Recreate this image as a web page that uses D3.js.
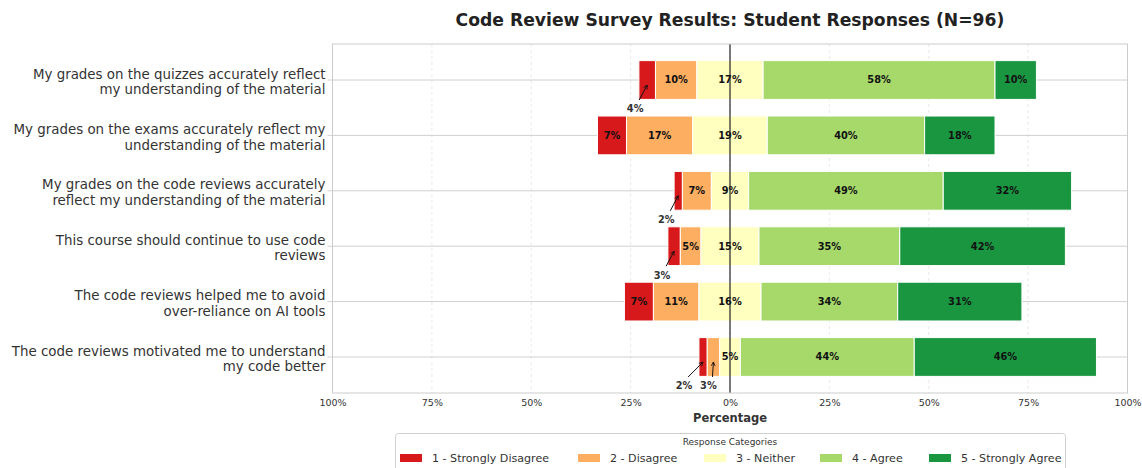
<!DOCTYPE html>
<html>
<head>
<meta charset="utf-8">
<script src="https://cdn.jsdelivr.net/npm/d3@7"></script>
<style>
  body { margin: 0; background: #fff; }
  svg { font-family: "DejaVu Sans", sans-serif; display: block; }
</style>
</head>
<body>
<div id="chart"></div>
<script>
const N = 96;

const questions = [
  ["My grades on the quizzes accurately reflect", "my understanding of the material"],
  ["My grades on the exams accurately reflect my", "understanding of the material"],
  ["My grades on the code reviews accurately", "reflect my understanding of the material"],
  ["This course should continue to use code", "reviews"],
  ["The code reviews helped me to avoid", "over-reliance on AI tools"],
  ["The code reviews motivated me to understand", "my code better"]
];

const categories = ["1 - Strongly Disagree", "2 - Disagree", "3 - Neither", "4 - Agree", "5 - Strongly Agree"];
const colors = ["#d7191c", "#fdae61", "#ffffbf", "#a6d96a", "#1a9641"];

// response counts per question (out of N = 96)
const stronglyDisagree = [4, 7, 2, 3, 7, 2];
const disagree = [10, 16, 7, 5, 11, 3];
const neither = [16, 18, 9, 14, 15, 5];
const agree = [56, 38, 47, 34, 33, 42];
const stronglyAgree = [10, 17, 31, 40, 30, 44];

const xTicks = [-100, -75, -50, -25, 0, 25, 50, 75, 100];

const W = 1142, H = 468;
const plot = { left: 332.5, right: 1127.5, top: 44, bottom: 393 };

const svg = d3.select("#chart").append("svg")
  .attr("width", W).attr("height", H);

const x = d3.scaleLinear().domain([-100, 100]).range([plot.left, plot.right]);
const y = d3.scaleLinear().domain([-0.65, 5.65]).range([plot.top, plot.bottom]);
const barH = y(0.35) - y(-0.35);

const defs = svg.append("defs");
defs.append("marker")
  .attr("id", "arrow")
  .attr("viewBox", "0 0 10 10")
  .attr("refX", 9).attr("refY", 5)
  .attr("markerWidth", 5).attr("markerHeight", 5)
  .attr("orient", "auto")
  .append("path")
  .attr("d", "M1,1 L9,5 L1,9")
  .attr("fill", "none")
  .attr("stroke", "#111")
  .attr("stroke-width", 1.6);

// grid
svg.append("g").selectAll("line")
  .data(xTicks)
  .join("line")
  .attr("x1", d => x(d)).attr("x2", d => x(d))
  .attr("y1", plot.top).attr("y2", plot.bottom)
  .attr("stroke", "#e3e3e3")
  .attr("stroke-dasharray", "3,3")
  .attr("stroke-width", 0.8);

svg.append("g").selectAll("line")
  .data(questions)
  .join("line")
  .attr("x1", plot.left - 5).attr("x2", plot.right)
  .attr("y1", (d, i) => y(i)).attr("y2", (d, i) => y(i))
  .attr("stroke", "#d0d0d0")
  .attr("stroke-width", 1);

// build rows
const rows = questions.map((q, i) => {
  const counts = [stronglyDisagree[i], disagree[i], neither[i], agree[i], stronglyAgree[i]];
  const pct = counts.map(c => c / N * 100);
  let start = -(pct[0] + pct[1] + pct[2] / 2);
  const segs = pct.map((p, k) => {
    const s = { row: i, k, x0: start, x1: start + p, p };
    start += p;
    return s;
  });
  return segs;
});

const bars = svg.append("g");
rows.forEach(segs => {
  bars.selectAll(null)
    .data(segs)
    .join("rect")
    .attr("x", d => x(d.x0))
    .attr("width", d => x(d.x1) - x(d.x0))
    .attr("y", d => y(d.row) - barH / 2)
    .attr("height", barH)
    .attr("fill", d => colors[d.k])
    .attr("stroke", "#fff")
    .attr("stroke-width", 1);

  const inside = segs.filter(d => Math.round(d.p) >= 5);
  bars.selectAll(null)
    .data(inside)
    .join("text")
    .attr("x", d => x((d.x0 + d.x1) / 2))
    .attr("y", d => y(d.row))
    .attr("dy", "0.35em")
    .attr("text-anchor", "middle")
    .attr("font-size", 9.8)
    .attr("font-weight", "bold")
    .attr("fill", "#111")
    .text(d => Math.round(d.p) + "%");

  const small = segs.filter(d => Math.round(d.p) < 5);
  const offs = small.length > 1 ? [-19, -5] : [-12];
  small.forEach((d, j) => {
    const cx = x((d.x0 + d.x1) / 2);
    const cy = y(d.row);
    const tx = cx + offs[j];
    bars.append("line")
      .attr("x1", tx + 4).attr("y1", cy + 20)
      .attr("x2", cx).attr("y2", cy + 5)
      .attr("stroke", "#111")
      .attr("stroke-width", 1)
      .attr("marker-end", "url(#arrow)");
    bars.append("text")
      .attr("x", tx).attr("y", cy + 29)
      .attr("dy", "0.35em")
      .attr("text-anchor", "middle")
      .attr("font-size", 9.8)
      .attr("font-weight", "bold")
      .attr("fill", "#333")
      .text(Math.round(d.p) + "%");
  });
});

// zero line
svg.append("line")
  .attr("x1", x(0)).attr("x2", x(0))
  .attr("y1", plot.top).attr("y2", plot.bottom)
  .attr("stroke", "#222")
  .attr("stroke-width", 1.2);

// frame
svg.append("rect")
  .attr("x", plot.left).attr("y", plot.top)
  .attr("width", plot.right - plot.left).attr("height", plot.bottom - plot.top)
  .attr("fill", "none")
  .attr("stroke", "#cccccc")
  .attr("stroke-width", 1);

// x axis
const xAxis = d3.axisBottom(x)
  .tickValues(xTicks)
  .tickSize(0)
  .tickPadding(6)
  .tickFormat(d => Math.abs(d) + "%");
const gx = svg.append("g")
  .attr("transform", `translate(0,${plot.bottom})`)
  .call(xAxis);
gx.select(".domain").remove();
gx.selectAll("text").attr("font-size", 9.5).attr("fill", "#333").attr("font-family", "DejaVu Sans");

svg.append("text")
  .attr("x", x(0)).attr("y", 422)
  .attr("text-anchor", "middle")
  .attr("font-size", 11.5)
  .attr("font-weight", "bold")
  .attr("fill", "#333")
  .text("Percentage");

// y labels
const yl = svg.append("g");
questions.forEach((q, i) => {
  const t = yl.append("text")
    .attr("x", plot.left - 7)
    .attr("y", y(i) - 6)
    .attr("text-anchor", "end")
    .attr("font-size", 13.4)
    .attr("fill", "#333");
  q.forEach((line, j) => {
    t.append("tspan")
      .attr("x", plot.left - 7)
      .attr("dy", j === 0 ? "0.35em" : 15.5)
      .text(line);
  });
});

// title
svg.append("text")
  .attr("x", x(0)).attr("y", 26)
  .attr("text-anchor", "middle")
  .attr("font-size", 17.2)
  .attr("font-weight", "bold")
  .attr("fill", "#222")
  .text("Code Review Survey Results: Student Responses (N=96)");

// legend
const lg = svg.append("g");
lg.append("rect")
  .attr("x", 395.5).attr("y", 433.5)
  .attr("width", 670).attr("height", 44)
  .attr("rx", 3)
  .attr("fill", "#fff")
  .attr("stroke", "#d0d0d0");
lg.append("text")
  .attr("x", 730).attr("y", 445)
  .attr("text-anchor", "middle")
  .attr("font-size", 9)
  .attr("fill", "#333")
  .text("Response Categories");
const legX = [400, 578, 704, 820, 929];
categories.forEach((c, k) => {
  lg.append("rect")
    .attr("x", legX[k]).attr("y", 454)
    .attr("width", 22).attr("height", 8)
    .attr("fill", colors[k]);
  lg.append("text")
    .attr("x", legX[k] + 32).attr("y", 458)
    .attr("dy", "0.35em")
    .attr("font-size", 11.1)
    .attr("fill", "#333")
    .text(c);
});
</script>
</body>
</html>
